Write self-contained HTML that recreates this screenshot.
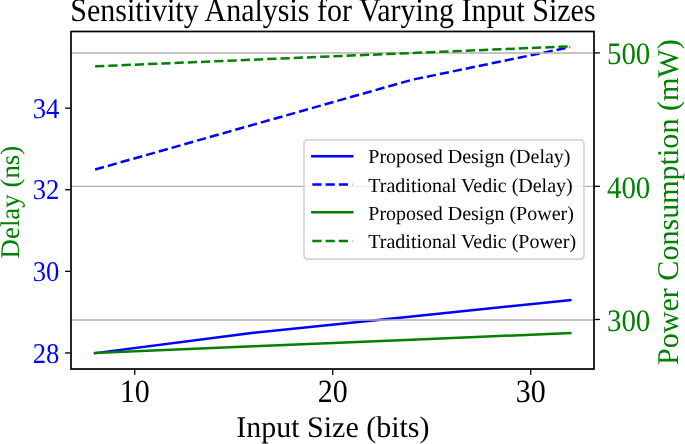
<!DOCTYPE html>
<html><head><meta charset="utf-8"><title>Sensitivity Analysis</title>
<style>html,body{margin:0;padding:0;background:#fff}svg{display:block;will-change:transform}text{font-family:"Liberation Serif",serif;text-rendering:geometricPrecision}</style></head>
<body>
<svg width="685" height="444" viewBox="0 0 685 444">
<rect width="685" height="444" fill="#fff"/>
<polyline points="95.10,353.15 253.50,332.75 411.90,316.43 570.30,300.11" fill="none" stroke="#0000ff" stroke-width="2.5" stroke-linecap="square" stroke-linejoin="round"/>
<polyline points="95.10,169.55 253.50,124.67 411.90,79.79 570.30,47.15" fill="none" stroke="#0000ff" stroke-width="2.5" stroke-dasharray="9.25 4" stroke-linejoin="round"/>
<line x1="65.13" x2="70.33" y1="352.95" y2="352.95" stroke="#000" stroke-width="1.333"/>
<text transform="translate(59.40,362.65) scale(1,1.07)" font-size="26.67" fill="#0000ff" text-anchor="end">28</text>
<line x1="65.13" x2="70.33" y1="271.35" y2="271.35" stroke="#000" stroke-width="1.333"/>
<text transform="translate(59.40,281.05) scale(1,1.07)" font-size="26.67" fill="#0000ff" text-anchor="end">30</text>
<line x1="65.13" x2="70.33" y1="189.75" y2="189.75" stroke="#000" stroke-width="1.333"/>
<text transform="translate(59.40,199.45) scale(1,1.07)" font-size="26.67" fill="#0000ff" text-anchor="end">32</text>
<line x1="65.13" x2="70.33" y1="108.15" y2="108.15" stroke="#000" stroke-width="1.333"/>
<text transform="translate(59.40,117.85) scale(1,1.07)" font-size="26.67" fill="#0000ff" text-anchor="end">34</text>
<line x1="134.70" x2="134.70" y1="369.67" y2="374.87" stroke="#000" stroke-width="1.333"/>
<text transform="translate(134.70,402.4) scale(1,1.08)" font-size="30" fill="#000" text-anchor="middle">10</text>
<line x1="332.70" x2="332.70" y1="369.67" y2="374.87" stroke="#000" stroke-width="1.333"/>
<text transform="translate(332.70,402.4) scale(1,1.08)" font-size="30" fill="#000" text-anchor="middle">20</text>
<line x1="530.70" x2="530.70" y1="369.67" y2="374.87" stroke="#000" stroke-width="1.333"/>
<text transform="translate(530.70,402.4) scale(1,1.08)" font-size="30" fill="#000" text-anchor="middle">30</text>
<line x1="71.00" x2="594.00" y1="320.00" y2="320.00" stroke="#b0b0b0" stroke-width="1.333"/>
<line x1="71.00" x2="594.00" y1="186.45" y2="186.45" stroke="#b0b0b0" stroke-width="1.333"/>
<line x1="71.00" x2="594.00" y1="53.00" y2="53.00" stroke="#b0b0b0" stroke-width="1.333"/>
<polyline points="95.10,353.04 253.50,346.37 411.90,339.70 570.30,333.03" fill="none" stroke="#008000" stroke-width="2.5" stroke-linecap="square" stroke-linejoin="round"/>
<polyline points="95.10,66.34 253.50,59.67 411.90,53.00 570.30,46.33" fill="none" stroke="#008000" stroke-width="2.5" stroke-dasharray="9.25 4" stroke-linejoin="round"/>
<line x1="594.67" x2="599.87" y1="319.50" y2="319.50" stroke="#000" stroke-width="1.333"/>
<text transform="translate(606.90,330.70) scale(0.965,1.04)" font-size="30" fill="#008000">300</text>
<line x1="594.67" x2="599.87" y1="186.30" y2="186.30" stroke="#000" stroke-width="1.333"/>
<text transform="translate(606.90,198.45) scale(0.965,1.04)" font-size="30" fill="#008000">400</text>
<line x1="594.67" x2="599.87" y1="52.90" y2="52.90" stroke="#000" stroke-width="1.333"/>
<text transform="translate(606.90,64.00) scale(0.965,1.04)" font-size="30" fill="#008000">500</text>
<rect x="71.00" y="31.50" width="523.00" height="337.50" fill="none" stroke="#000" stroke-width="1.7"/>
<rect x="304.0" y="139.8" width="280.0" height="119.3" rx="3.3" ry="3.3" fill="#fff" fill-opacity="0.8" stroke="#cccccc" stroke-opacity="0.8" stroke-width="1.667"/>
<line x1="312.3" x2="352.3" y1="156.2" y2="156.2" stroke="#0000ff" stroke-width="2.5" stroke-linecap="square"/>
<text x="368.3" y="162.70" font-size="20" fill="#000">Proposed Design (Delay)</text>
<line x1="312.3" x2="352.3" y1="184.6" y2="184.6" stroke="#0000ff" stroke-width="2.5" stroke-dasharray="9.25 4"/>
<text x="368.3" y="191.50" font-size="20" fill="#000">Traditional Vedic (Delay)</text>
<line x1="312.3" x2="352.3" y1="212.2" y2="212.2" stroke="#008000" stroke-width="2.5" stroke-linecap="square"/>
<text x="368.3" y="219.60" font-size="20" fill="#000">Proposed Design (Power)</text>
<line x1="312.3" x2="352.3" y1="241.0" y2="241.0" stroke="#008000" stroke-width="2.5" stroke-dasharray="9.25 4"/>
<text x="368.3" y="248.00" font-size="20" fill="#000">Traditional Vedic (Power)</text>
<text transform="translate(332.95,21.4) scale(1,1.10)" font-size="30" fill="#000" text-anchor="middle">Sensitivity Analysis for Varying Input Sizes</text>
<text x="332.90" y="437.2" font-size="30" fill="#000" text-anchor="middle">Input Size (bits)</text>
<text transform="translate(19.3,202.10) rotate(-90)" font-size="26.9" fill="#008000" text-anchor="middle">Delay (ns)</text>
<text transform="translate(678.0,202.15) rotate(-90)" font-size="30.08" fill="#008000" text-anchor="middle">Power Consumption (mW)</text>
</svg>
</body></html>
